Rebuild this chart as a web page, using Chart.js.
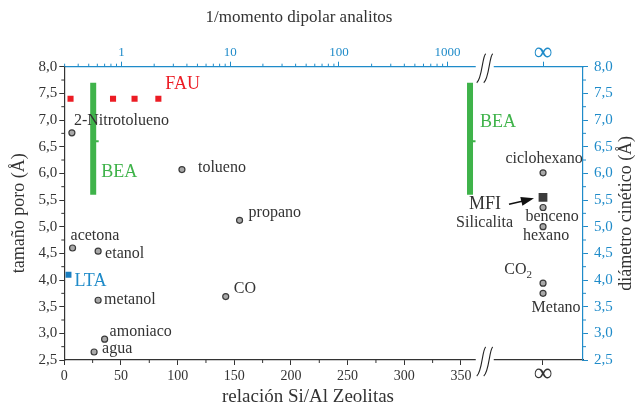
<!DOCTYPE html>
<html>
<head>
<meta charset="utf-8">
<script src="https://cdn.jsdelivr.net/npm/chart.js@4.4.1/dist/chart.umd.min.js"></script>
<style>
  html, body { margin: 0; padding: 0; background: #fff; }
  #wrap { width: 637px; height: 405px; }
</style>
</head>
<body>
<div id="wrap"><canvas id="poreChart" width="637" height="405"></canvas></div>
<script>
// analytes: 1/dipole moment (top axis) against kinetic diameter (right axis)
const moleculeNames = ['2-Nitrotolueno', 'tolueno', 'propano', 'acetona', 'etanol', 'metanol', 'CO',
                       'amoniaco', 'agua', 'ciclohexano', 'benceno', 'hexano', 'CO2', 'Metano'];
const inverseDipole = [0.35, 3.6, 12.2, 0.355, 0.61, 0.61, 9.1, 0.70, 0.56,
                       Infinity, Infinity, Infinity, Infinity, Infinity];
const kineticDiameter = [6.76, 6.07, 5.12, 4.60, 4.54, 3.62, 3.69, 2.89, 2.65,
                         6.01, 5.36, 5.00, 3.94, 3.75];

// zeolites: Si/Al ratio (bottom axis) against pore size (left axis)
const fauSiAl = [5.5, 43, 62, 83];
const fauPore = [7.4, 7.4, 7.4, 7.4];
const beaSiAl = [25.5, 358];
const beaPoreRange = [5.6, 7.7];
const beaPoreMid = [6.6, 6.6];
const ltaSiAl = [3.7];
const ltaPore = [4.1];
const mfiSiAl = [Infinity];
const mfiPore = [5.55];

// tick labels
const siAlTicks = [0, 50, 100, 150, 200, 250, 300, 350, Infinity];
const dipoleTicks = [1, 10, 100, 1000, Infinity];
const poreTicks = [2.5, 3.0, 3.5, 4.0, 4.5, 5.0, 5.5, 6.0, 6.5, 7.0, 7.5, 8.0];

const FONT = "'Liberation Serif', 'Times New Roman', serif";
const INK = '#333333';
const BLUE = '#1f8bc9';
const RED = '#ec1c24';
const GREEN = '#3fb34a';

const INF_SIAL = 422.4;   // where "∞" sits on the Si/Al axis
const INF_DIPOLE = 7550;  // where "∞" sits on the dipole axis
const BREAK_SIAL = 371;   // axis break, in Si/Al units

const siAl = v => (v === Infinity ? INF_SIAL : v);
const dip = v => (v === Infinity ? INF_DIPOLE : v);
const pts = (xs, ys, fx) => xs.map((x, i) => ({ x: fx(x), y: ys[i] }));

const datasets = [];
beaSiAl.forEach(x => {
  datasets.push({
    label: 'BEA', data: beaPoreRange.map(y => ({ x: x, y: y })),
    showLine: true, borderColor: GREEN, borderWidth: 6, borderCapStyle: 'butt',
    pointRadius: 0, xAxisID: 'x', yAxisID: 'y'
  });
});
datasets.push({
  label: 'BEA-mid', data: pts(beaSiAl, beaPoreMid, siAl),
  pointStyle: 'dash', pointRadius: 5.5, borderColor: GREEN, borderWidth: 2,
  xAxisID: 'x', yAxisID: 'y'
});
datasets.push({
  label: 'FAU', data: pts(fauSiAl, fauPore, siAl),
  pointStyle: 'rect', pointRadius: 4.3, backgroundColor: RED, borderWidth: 0,
  xAxisID: 'x', yAxisID: 'y'
});
datasets.push({
  label: 'LTA', data: pts(ltaSiAl, ltaPore, siAl),
  pointStyle: 'rect', pointRadius: 4.2, backgroundColor: '#1a7dbf', borderWidth: 0,
  xAxisID: 'x', yAxisID: 'y'
});
datasets.push({
  label: 'MFI', data: pts(mfiSiAl, mfiPore, siAl),
  pointStyle: 'rect', pointRadius: 6.2, backgroundColor: '#3b3b3b', borderWidth: 0,
  xAxisID: 'x', yAxisID: 'y'
});
datasets.push({
  label: 'analitos', data: pts(inverseDipole, kineticDiameter, dip),
  pointStyle: 'circle', pointRadius: 3, backgroundColor: '#a9a9a9',
  borderColor: '#3a3a3a', borderWidth: 1.2, xAxisID: 'x2', yAxisID: 'y2'
});

// label placement, pixels from the point
const moleculeNotes = {
  '2-Nitrotolueno': [2, -12, 'left'],
  'tolueno': [16, -2, 'left'],
  'propano': [9, -7, 'left'],
  'acetona': [-2, -12, 'left'],
  'etanol': [7, 3, 'left'],
  'metanol': [6, 0, 'left'],
  'CO': [8, -8, 'left'],
  'amoniaco': [5, -7, 'left'],
  'agua': [8, -3, 'left'],
  'ciclohexano': [1, -14, 'center'],
  'benceno': [9, 9, 'center'],
  'hexano': [3, 9, 'center'],
  'CO2': [-11, -13, 'right'],
  'Metano': [13, 14, 'center']
};
const zeoliteNotes = [
  { set: 'FAU', idx: 3, text: 'FAU', color: RED, size: 18, dx: 7, dy: -14, align: 'left' },
  { set: 'BEA-mid', idx: 0, text: 'BEA', color: GREEN, size: 18, dx: 8, dy: 31, align: 'left' },
  { set: 'BEA-mid', idx: 1, text: 'BEA', color: GREEN, size: 18, dx: 10, dy: -19, align: 'left' },
  { set: 'LTA', idx: 0, text: 'LTA', color: BLUE, size: 18, dx: 6, dy: 7, align: 'left' },
  { set: 'MFI', idx: 0, text: 'MFI', color: INK, size: 18, dx: -42, dy: 7, align: 'right' },
  { set: 'MFI', idx: 0, text: 'Silicalita', color: INK, size: 16, dx: -30, dy: 25, align: 'right' }
];

const notesPlugin = {
  id: 'notes',
  afterDatasetsDraw(chart) {
    const ctx = chart.ctx;
    ctx.save();
    ctx.textBaseline = 'middle';
    const metaOf = name => chart.getDatasetMeta(chart.data.datasets.findIndex(d => d.label === name));
    const mol = metaOf('analitos');
    moleculeNames.forEach((name, i) => {
      const p = mol.data[i];
      const [dx, dy, align] = moleculeNotes[name];
      const x = p.x + dx, y = p.y + dy;
      ctx.fillStyle = INK;
      ctx.font = '16px ' + FONT;
      if (name === 'CO2') {
        ctx.font = '11px ' + FONT;
        const w2 = ctx.measureText('2').width;
        ctx.textAlign = 'right';
        ctx.fillText('2', x, y + 5);
        ctx.font = '16px ' + FONT;
        ctx.fillText('CO', x - w2, y);
      } else {
        ctx.textAlign = align;
        ctx.fillText(name, x, y);
      }
    });
    zeoliteNotes.forEach(n => {
      const p = metaOf(n.set).data[n.idx];
      ctx.fillStyle = n.color;
      ctx.font = n.size + 'px ' + FONT;
      ctx.textAlign = n.align;
      ctx.fillText(n.text, p.x + n.dx, p.y + n.dy);
    });
    // arrow MFI -> square
    const m = metaOf('MFI').data[0];
    const x0 = m.x - 34, y0 = m.y + 7, x1 = m.x - 9, y1 = m.y + 1;
    const ang = Math.atan2(y1 - y0, x1 - x0);
    ctx.strokeStyle = '#111';
    ctx.fillStyle = '#111';
    ctx.lineWidth = 1.5;
    ctx.beginPath();
    ctx.moveTo(x0, y0);
    ctx.lineTo(x1 - 10 * Math.cos(ang), y1 - 10 * Math.sin(ang));
    ctx.stroke();
    ctx.beginPath();
    ctx.moveTo(x1, y1);
    ctx.lineTo(x1 - 13 * Math.cos(ang) + 4.5 * Math.sin(ang), y1 - 13 * Math.sin(ang) - 4.5 * Math.cos(ang));
    ctx.lineTo(x1 - 13 * Math.cos(ang) - 4.5 * Math.sin(ang), y1 - 13 * Math.sin(ang) + 4.5 * Math.cos(ang));
    ctx.closePath();
    ctx.fill();
    ctx.restore();
  }
};

// minor ticks, axis break marks and axis titles
const axesPlugin = {
  id: 'axesExtra',
  afterDraw(chart) {
    const ctx = chart.ctx;
    const { x, x2, y, y2 } = chart.scales;
    const area = chart.chartArea;
    const bx = x.getPixelForValue(BREAK_SIAL);
    ctx.save();
    ctx.lineWidth = 1;
    // minor ticks
    ctx.strokeStyle = INK;
    ctx.beginPath();
    for (let v = 25; v < BREAK_SIAL; v += 50) {
      const px = x.getPixelForValue(v);
      ctx.moveTo(px, area.bottom); ctx.lineTo(px, area.bottom + 3);
    }
    for (let v = 2.75; v < 8; v += 0.5) {
      const py = y.getPixelForValue(v);
      ctx.moveTo(area.left, py); ctx.lineTo(area.left - 3, py);
    }
    ctx.stroke();
    ctx.strokeStyle = BLUE;
    ctx.beginPath();
    for (let v = 2.75; v < 8; v += 0.5) {
      const py = y2.getPixelForValue(v);
      ctx.moveTo(area.right, py); ctx.lineTo(area.right + 3, py);
    }
    for (let e = -1; e <= 3; e++) {
      for (let k = 2; k <= 9; k++) {
        const v = k * Math.pow(10, e);
        const px = x2.getPixelForValue(v);
        if (px < area.left || px > bx - 9) continue;
        ctx.moveTo(px, area.top); ctx.lineTo(px, area.top - 3);
      }
    }
    ctx.stroke();
    // axis breaks
    [area.bottom, area.top].forEach(ay => {
      ctx.fillStyle = '#fff';
      ctx.fillRect(bx - 9, ay - 2, 18, 4);
      ctx.strokeStyle = '#222';
      ctx.lineWidth = 1.1;
      [-3.5, 3.5].forEach(d => {
        const cx = bx + d;
        ctx.beginPath();
        ctx.moveTo(cx + 4.5, ay - 13);
        ctx.bezierCurveTo(cx + 1, ay - 11, cx + 1, ay + 12, cx - 4.5, ay + 16);
        ctx.stroke();
      });
    });
    // titles
    ctx.fillStyle = INK;
    ctx.textAlign = 'center';
    ctx.textBaseline = 'middle';
    ctx.font = '19px ' + FONT;
    ctx.fillText('relación Si/Al Zeolitas', 308, 397);
    ctx.font = '17px ' + FONT;
    ctx.fillText('1/momento dipolar analitos', 299, 18);
    ctx.font = '18px ' + FONT;
    const midY = (area.top + area.bottom) / 2;
    [[19, 'tamaño poro (Å)'], [626, 'diámetro cinético (Å)']].forEach(([tx, t]) => {
      ctx.save();
      ctx.translate(tx, midY);
      ctx.rotate(-Math.PI / 2);
      ctx.fillText(t, 0, 0);
      ctx.restore();
    });
    ctx.restore();
  }
};

const poreLabel = v => v.toFixed(1).replace('.', ',');
const gridOpts = color => ({ drawOnChartArea: false, drawTicks: true, tickLength: 5, color: color, lineWidth: 1 });

new Chart(document.getElementById('poreChart'), {
  type: 'scatter',
  data: { datasets: datasets },
  options: {
    responsive: false,
    animation: false,
    layout: { padding: 0 },
    plugins: { legend: { display: false }, tooltip: { enabled: false } },
    scales: {
      x: {
        type: 'linear', position: 'bottom', min: 0, max: 457.7,
        afterBuildTicks: s => { s.ticks = siAlTicks.map(v => ({ value: siAl(v) })); },
        afterFit: s => { s.height = 45; },
        border: { color: INK, width: 1.2 },
        grid: gridOpts(INK),
        ticks: {
          color: INK, padding: 3, maxRotation: 0, autoSkip: false,
          font: c => (c.tick && c.tick.value === INF_SIAL
            ? { family: FONT, size: 26, lineHeight: '13px' }
            : { family: FONT, size: 14 }),
          callback: v => (v === INF_SIAL ? '∞' : String(v))
        }
      },
      x2: {
        type: 'logarithmic', position: 'top', min: 0.298, max: 17600,
        afterBuildTicks: s => { s.ticks = dipoleTicks.map(v => ({ value: dip(v) })); },
        afterFit: s => { s.height = 66.7; },
        border: { color: BLUE, width: 1.2 },
        grid: gridOpts(BLUE),
        ticks: {
          color: BLUE, padding: 1, maxRotation: 0, autoSkip: false,
          font: c => (c.tick && c.tick.value === INF_DIPOLE
            ? { family: FONT, size: 26, lineHeight: '15px' }
            : { family: FONT, size: 13 }),
          callback: v => (v === INF_DIPOLE ? '∞' : String(v))
        }
      },
      y: {
        type: 'linear', position: 'left', min: 2.5, max: 8,
        afterBuildTicks: s => { s.ticks = poreTicks.map(v => ({ value: v })); },
        afterFit: s => { s.width = 64.3; },
        border: { color: INK, width: 1.2 },
        grid: gridOpts(INK),
        ticks: { color: INK, padding: 2, font: { family: FONT, size: 15 }, callback: poreLabel }
      },
      y2: {
        type: 'linear', position: 'right', min: 2.5, max: 8,
        afterBuildTicks: s => { s.ticks = poreTicks.map(v => ({ value: v })); },
        afterFit: s => { s.width = 54; },
        border: { color: BLUE, width: 1.2 },
        grid: gridOpts(BLUE),
        ticks: { color: BLUE, padding: 6, font: { family: FONT, size: 15 }, callback: poreLabel }
      }
    }
  },
  plugins: [notesPlugin, axesPlugin]
});
</script>
</body>
</html>
